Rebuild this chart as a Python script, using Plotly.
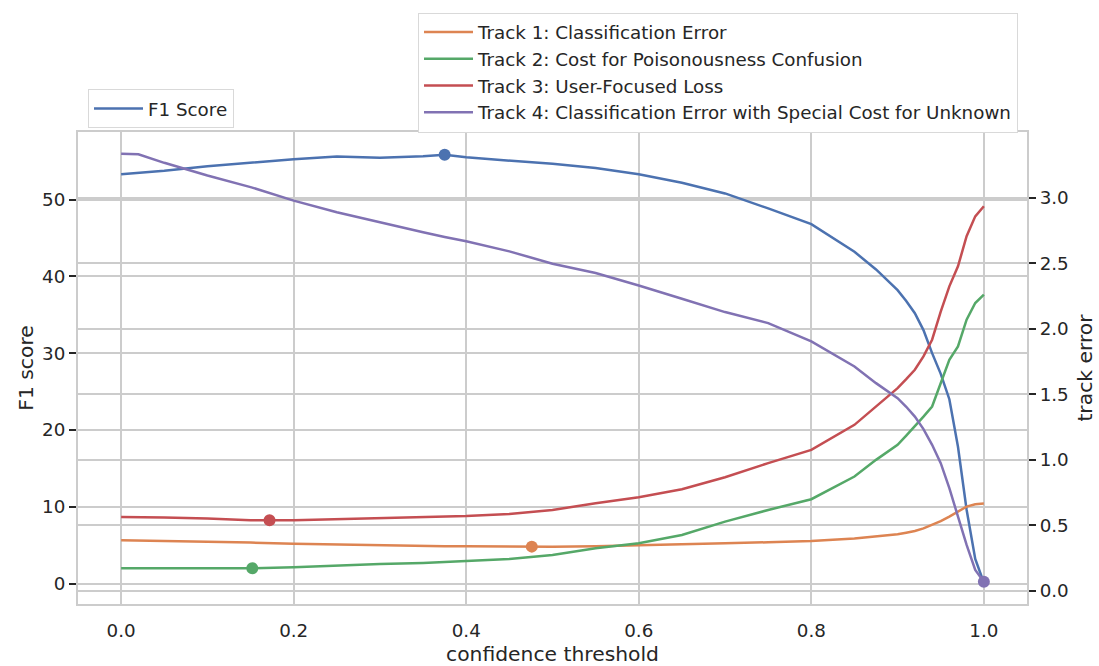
import numpy as np
import plotly.graph_objects as go

thresholds = [0.00, 0.02, 0.05, 0.10, 0.15, 0.20, 0.25, 0.30, 0.35, 0.375, 0.40, 0.45,
              0.50, 0.55, 0.60, 0.65, 0.70, 0.75, 0.80, 0.85, 0.875, 0.90, 0.91, 0.92,
              0.93, 0.94, 0.95, 0.96, 0.97, 0.98, 0.99, 1.00]

f1_score = [53.3, 53.45, 53.75, 54.35, 54.8, 55.25, 55.6, 55.45, 55.65, 55.85, 55.5, 55.1,
            54.65, 54.1, 53.3, 52.2, 50.8, 48.85, 46.8, 43.2, 40.9, 38.2, 36.8, 35.2,
            33.0, 30.0, 27.3, 24.0, 17.8, 9.6, 3.2, 0.1]

track1 = [0.387, 0.385, 0.382, 0.377, 0.369, 0.361, 0.354, 0.349, 0.344, 0.342, 0.341, 0.339,
          0.338, 0.342, 0.351, 0.357, 0.364, 0.372, 0.382, 0.400, 0.415, 0.433, 0.445, 0.458,
          0.478, 0.504, 0.533, 0.567, 0.605, 0.644, 0.662, 0.667]

track2 = [0.173, 0.173, 0.173, 0.173, 0.173, 0.181, 0.196, 0.206, 0.214, 0.221, 0.229, 0.244,
          0.275, 0.326, 0.364, 0.427, 0.529, 0.618, 0.700, 0.873, 1.000, 1.115, 1.185, 1.254,
          1.330, 1.407, 1.585, 1.763, 1.865, 2.069, 2.196, 2.260]

track3 = [0.565, 0.564, 0.560, 0.552, 0.540, 0.539, 0.547, 0.555, 0.560, 0.563, 0.572, 0.588,
          0.618, 0.669, 0.715, 0.776, 0.868, 0.975, 1.076, 1.267, 1.410, 1.547, 1.615, 1.687,
          1.789, 1.916, 2.130, 2.323, 2.476, 2.705, 2.857, 2.934]

track4 = [3.335, 3.330, 3.265, 3.168, 3.080, 2.977, 2.888, 2.810, 2.735, 2.700, 2.667, 2.590,
          2.496, 2.425, 2.330, 2.229, 2.127, 2.043, 1.903, 1.712, 1.585, 1.471, 1.405, 1.330,
          1.235, 1.115, 0.975, 0.784, 0.567, 0.351, 0.160, 0.070]

track_names = ["Track 1: Classification Error",
               "Track 2: Cost for Poisonousness Confusion",
               "Track 3: User-Focused Loss",
               "Track 4: Classification Error with Special Cost for Unknown"]
track_values = [track1, track2, track3, track4]
track_best = [0.476, 0.152, 0.172, 1.0]
f1_best = 0.375

colors = {"f1": "#4c72b0", "t": ["#dd8452", "#55a868", "#c44e52", "#8172b3"]}
font_family = "DejaVu Sans, sans-serif"
text_color = "#262626"
grid_color = "#cccccc"
LW = 2.5

fig = go.Figure()

fig.add_trace(go.Scatter(x=thresholds, y=f1_score, mode="lines", name="F1 Score",
                         line=dict(color=colors["f1"], width=LW), yaxis="y",
                         legend="legend"))
fig.add_trace(go.Scatter(x=[f1_best], y=[float(np.interp(f1_best, thresholds, f1_score))],
                         mode="markers", marker=dict(color=colors["f1"], size=12),
                         showlegend=False, yaxis="y"))

for i, (name, vals) in enumerate(zip(track_names, track_values)):
    fig.add_trace(go.Scatter(x=thresholds, y=vals, mode="lines", name=name,
                             line=dict(color=colors["t"][i], width=LW), yaxis="y2",
                             legend="legend2"))
for i, vals in enumerate(track_values):
    bx = track_best[i]
    fig.add_trace(go.Scatter(x=[bx], y=[float(np.interp(bx, thresholds, vals))],
                             mode="markers", marker=dict(color=colors["t"][i], size=12),
                             showlegend=False, yaxis="y2"))

axis_common = dict(showgrid=True, gridcolor=grid_color, gridwidth=1.5, zeroline=False,
                   showline=True, linecolor=grid_color, linewidth=2, mirror=True,
                   tickfont=dict(size=18.3, color=text_color, family=font_family),
                   automargin=False)
title_font = dict(size=20.3, color=text_color, family=font_family)
legend_font = dict(size=18.3, color=text_color, family=font_family)

fig.update_layout(
    width=1099, height=666,
    margin=dict(l=78, r=72, t=132, b=62),
    paper_bgcolor="white", plot_bgcolor="white",
    font=dict(family=font_family, color=text_color),
    xaxis=dict(range=[-0.05, 1.05], tickvals=[0, 0.2, 0.4, 0.6, 0.8, 1.0],
               tickformat=".1f", ticks="outside", ticklen=9, tickcolor="rgba(0,0,0,0)",
               title=dict(text="confidence threshold", font=title_font, standoff=8),
               **axis_common),
    yaxis=dict(range=[-2.67, 58.8], tickvals=[0, 10, 20, 30, 40, 50],
               ticks="outside", ticklen=7, tickwidth=1.6, tickcolor=text_color,
               title=dict(text="F1 score", font=title_font, standoff=3),
               **axis_common),
    yaxis2=dict(range=[-0.099, 3.50], tickvals=[0, 0.5, 1.0, 1.5, 2.0, 2.5, 3.0],
                tickformat=".1f", overlaying="y", side="right",
                ticks="outside", ticklen=7, tickwidth=1.6, tickcolor=text_color,
                title=dict(text="track error", font=title_font, standoff=10),
                **axis_common),
    legend=dict(x=(88 - 78) / 949, y=(604 - 89) / 472,
                xanchor="left", yanchor="top",
                bgcolor="white", bordercolor="#d9d9d9", borderwidth=1,
                itemwidth=49, font=legend_font),
    legend2=dict(x=(1018 - 78) / 949, y=(604 - 12.5) / 472,
                 xanchor="right", yanchor="top",
                 bgcolor="white", bordercolor="#d9d9d9", borderwidth=1,
                 itemwidth=49, font=legend_font),
)

fig.write_html("out.html", config={"displayModeBar": False},
               post_script="document.body.style.margin='0px';")
